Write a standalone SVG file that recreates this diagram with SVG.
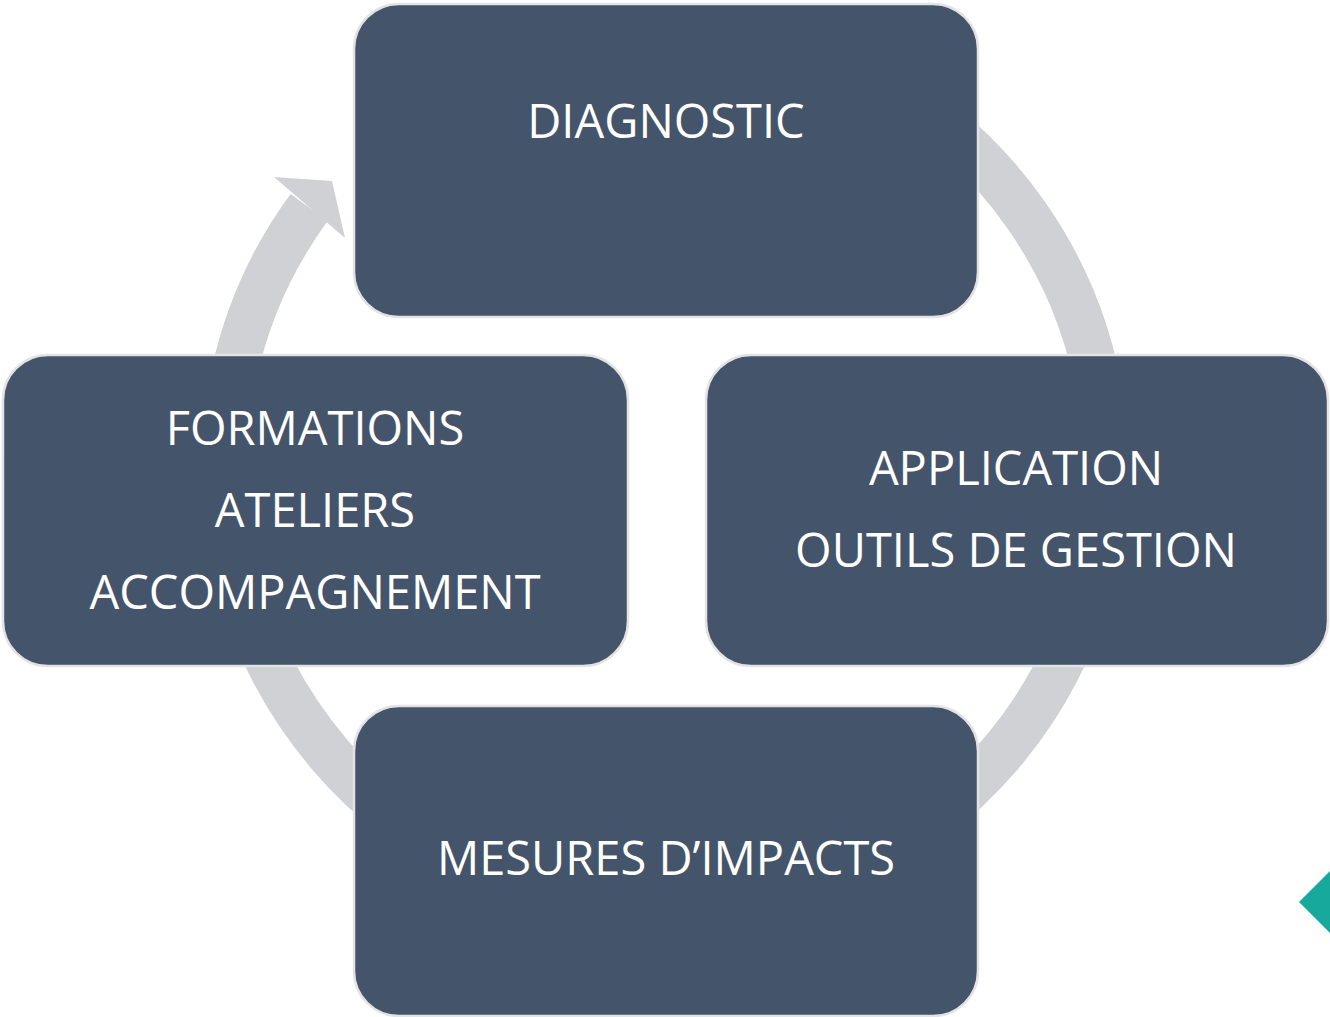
<svg xmlns="http://www.w3.org/2000/svg" width="1330" height="1017" viewBox="0 0 1330 1017">
<style>
.box{fill:#44546a;stroke:#e3e3e3;stroke-width:2.5}
.lbl{fill:#ffffff;font-family:"Open Sans","Liberation Sans",sans-serif;font-size:47px;text-anchor:middle}
.ring{fill:none;stroke:#d0d1d5;stroke-width:46;stroke-linecap:butt}
</style>
<rect width="1330" height="1017" fill="#ffffff"/>
<g id="connectors">
<path class="ring" d="M703.4,28.7 A441,441 0 1 1 309.1,207.5"/>
<polygon points="274,177 332,181 345,238" fill="#d0d1d5"/>
</g>
<g id="diagnostic">
<rect class="box" x="354" y="4" width="624" height="313" rx="45"/>
<text class="lbl" x="666" y="138">DIAGNOSTIC</text>
</g>
<g id="application">
<rect class="box" x="706" y="355" width="622" height="311" rx="45"/>
<text class="lbl" x="1016" y="485">APPLICATION</text>
<text class="lbl" x="1016" y="567">OUTILS DE GESTION</text>
</g>
<g id="formations">
<rect class="box" x="3" y="355" width="625" height="311" rx="45"/>
<text class="lbl" x="315" y="445">FORMATIONS</text>
<text class="lbl" x="315" y="527">ATELIERS</text>
<text class="lbl" x="315" y="609">ACCOMPAGNEMENT</text>
</g>
<g id="mesures">
<rect class="box" x="354" y="706" width="624" height="310" rx="45"/>
<text class="lbl" x="666" y="875">MESURES D’IMPACTS</text>
</g>
<polygon points="1299,902 1332,869 1332,935" fill="#17a99c"/>
</svg>
